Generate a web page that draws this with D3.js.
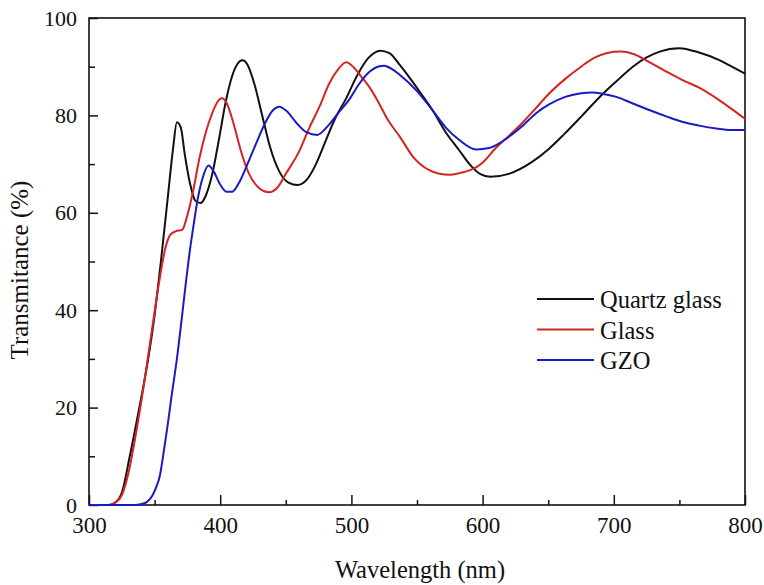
<!DOCTYPE html>
<html>
<head>
<meta charset="utf-8">
<script src="https://cdn.jsdelivr.net/npm/d3@7"></script>
<style>
  body { margin: 0; background: #fff; }
</style>
</head>
<body>
<script>

var Width = 764;      // of SVG
var Height = 585;     // of SVG
var Left = 89, Right = 745, Top = 18, Bottom = 505;   // plot frame

// data: wavelength (nm) and transmittance (%)
var quartzX = [300,315,320,325,331,338,345,350,355,360,364,367,370,373,377,381,385,389,394,399,404,409,413,417,421,426,432,438,445,452,459,466,473,480,487,496,505,513,522,529,537,545,553,562,572,582,590,598,606,620,638,650,662,676,690,704,715,725,735,750,765,780,790,800];
var quartzY = [0,0,0.5,2.5,9.9,19.5,29.8,39,50.5,63,73,78.6,77.5,72,66,62.5,62,63.5,68,75,82.5,88,90.5,91.3,90.3,86.5,80,73.5,68.5,66.2,65.7,66.8,70,74.5,79,83.5,88.5,91.8,93.3,92.8,90.3,87.5,84.5,81,76.5,72.9,70,68,67.4,68,70.5,73,76.1,80,84,87.5,90.1,91.9,93.1,93.8,92.9,91.4,90,88.6];

var glassX = [300,315,320,325,330,336,342,348,353,358,362,366,371,375,379,384,389,394,398,401,405,410,416,422,430,437,444,450,460,468,476,483,490,496,502,508,515,521,528,537,547,559,567,575,583,591,600,610,620,630,640,650,663,675,685,695,705,715,726,740,752,765,780,790,800];
var glassY = [0,0,0.5,2,6.5,15,25,36,45,52.5,55.5,56.2,56.5,59.5,64,71,76.5,80.5,82.8,83.5,82.5,78.5,72.5,68,65,64.2,65.3,68,72.5,77.5,82,86.5,89.5,90.9,89.8,87.8,85.3,82.5,79,75.6,71.5,68.8,68,67.8,68.2,68.8,70.3,73.3,75.8,78.4,81.3,84.3,87.5,90,91.8,92.8,93.1,92.6,91.1,89,87.3,85.7,83.2,81.3,79.3];

var gzoX = [300,335,340,344,348,351,354,357,360,363,367,371,374,377,380,383,387,391,395,400,405,409,414,420,427,434,440,445,451,458,466,474,482,490,499,506,514,520,525,531,537,550,562,572,582,595,605,613,622,631,641,651,663,674,684,692,702,714,727,740,752,765,778,790,800];
var gzoY = [0,0,0.2,0.6,1.8,3.5,6,11,16.5,22.5,30,39,46,52.5,58,63,67.5,69.7,68.5,65.8,64.3,64.3,66,69.5,74,78.3,81,81.8,80.8,78.5,76.5,76,77.8,80.5,83.5,86.5,89,90,90.2,89.5,88.3,85,81,77.5,75,73,73.3,74.3,76,78,80.5,82.3,83.8,84.5,84.7,84.4,83.8,82.5,81.1,79.8,78.7,77.9,77.3,77,77];

var seriesNames = ["Quartz glass", "Glass", "GZO"];
var seriesColors = ["#111111", "#d42424", "#1a1ac4"];
var xTicks = [300,400,500,600,700,800];
var yTicks = [0,20,40,60,80,100];

var FontFamily = "'Liberation Serif'";


function main () {

  var svg = makeSVG();

  var xScale = d3.scaleLinear().domain([300, 800]).range([Left, Right]);
  var yScale = d3.scaleLinear().domain([0, 100]).range([Bottom, Top]);

  makeAxes(svg, xScale, yScale);
  makeLines(svg, xScale, yScale);
  makeLegend(svg);
  makeLabels(svg);
}

function zip (xs, ys) {
  return xs.map(function(x, i) { return [x, ys[i]]; });
}

function makeLines (svg, xScale, yScale) {
  var line = d3.line()
    .x(function(d) { return xScale(d[0]); })
    .y(function(d) { return yScale(d[1]); })
    .curve(d3.curveMonotoneX);

  var all = [zip(quartzX, quartzY), zip(glassX, glassY), zip(gzoX, gzoY)];

  svg.selectAll("path.series")
    .data(all)
    .enter()
    .append("path")
    .attr("class", "series")
    .attr("d", line)
    .attr("fill", "none")
    .attr("stroke", function(d, i) { return seriesColors[i]; })
    .attr("stroke-width", 2)
    .attr("stroke-linejoin", "round");
}

function makeAxes (svg, xScale, yScale) {

  // minor ticks (inward, short)
  var xAxisMinor = d3.axisBottom(xScale)
    .tickValues(d3.range(350, 800, 100))
    .tickSize(-5)
    .tickFormat("");
  svg.append("g")
    .attr("transform", "translate(0," + Bottom + ")")
    .call(xAxisMinor);

  var xAxis = d3.axisBottom(xScale)
    .tickValues(xTicks)
    .tickSize(-10)
    .tickPadding(12)
    .tickFormat(d3.format("d"));
  var gx = svg.append("g")
    .attr("class", "x axis")
    .attr("transform", "translate(0," + Bottom + ")")
    .call(xAxis);
  gx.selectAll("text")
    .style("font-family", FontFamily)
    .style("font-size", "23px")
    .attr("fill", "#111");

  var yAxisMinor = d3.axisLeft(yScale)
    .tickValues(d3.range(10, 100, 20))
    .tickSize(-6)
    .tickFormat("");
  svg.append("g")
    .attr("transform", "translate(" + Left + ",0)")
    .call(yAxisMinor);

  var yAxis = d3.axisLeft(yScale)
    .tickValues(yTicks)
    .tickSize(-9)
    .tickPadding(12)
    .tickFormat(d3.format("d"));
  var gy = svg.append("g")
    .attr("class", "y axis")
    .attr("transform", "translate(" + Left + ",0)")
    .call(yAxis);
  gy.selectAll("text")
    .style("font-family", FontFamily)
    .style("font-size", "22px")
    .attr("fill", "#111");

  svg.selectAll(".domain").remove();
  svg.selectAll(".tick line").attr("stroke", "#111").attr("stroke-width", 1.5);

  // frame
  svg.append("rect")
    .attr("x", Left)
    .attr("y", Top)
    .attr("width", Right - Left)
    .attr("height", Bottom - Top)
    .attr("fill", "none")
    .attr("stroke", "#111")
    .attr("stroke-width", 1.6);
}

function makeLegend (svg) {
  var g = svg.append("g").attr("class", "legend");
  seriesNames.forEach(function(name, i) {
    var y = 299 + i * 30.5;
    g.append("line")
      .attr("x1", 537).attr("x2", 594)
      .attr("y1", y).attr("y2", y)
      .attr("stroke", seriesColors[i])
      .attr("stroke-width", 2);
    g.append("text")
      .attr("x", 600)
      .attr("y", y + 9)
      .attr("fill", "#111")
      .style("font-family", FontFamily)
      .style("font-size", "24.5px")
      .text(name);
  });
}

function makeLabels (svg) {
  svg.append("text")
    .attr("x", 420)
    .attr("y", 578)
    .attr("text-anchor", "middle")
    .attr("fill", "#111")
    .style("font-family", FontFamily)
    .style("font-size", "24.5px")
    .text("Wavelength (nm)");

  svg.append("text")
    .attr("transform", "translate(28,270) rotate(-90)")
    .attr("text-anchor", "middle")
    .attr("fill", "#111")
    .style("font-family", FontFamily)
    .style("font-size", "25px")
    .text("Transmitance (%)");
}

function makeSVG () {
  var svg = d3.select("body")
    .append("svg")
    .attr("width", Width)
    .attr("height", Height);
  return svg;
}

main();
</script>
</body>
</html>
